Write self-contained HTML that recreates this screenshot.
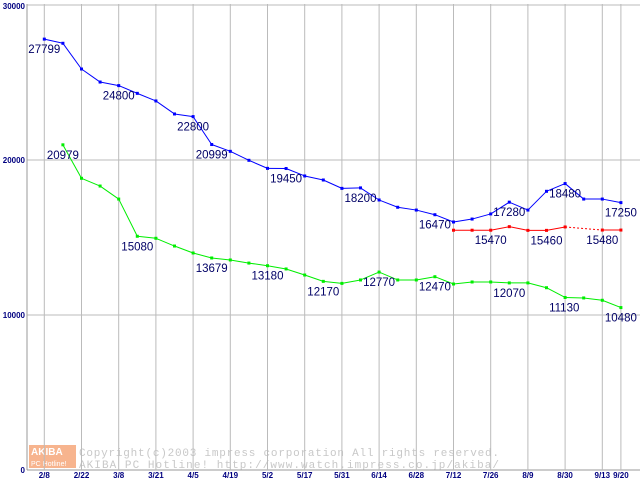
<!DOCTYPE html>
<html><head><meta charset="utf-8"><style>
html,body{margin:0;padding:0;background:#fff;width:640px;height:480px;overflow:hidden}
svg{display:block}
</style></head><body>
<svg id="chart" width="640" height="480" xmlns="http://www.w3.org/2000/svg" font-family="'Liberation Sans', sans-serif">
<g>
<rect x="29" y="445" width="47" height="23" fill="#f7b48e"/>
<text x="31" y="455" font-size="10" font-weight="bold" fill="#fff">AKIBA</text>
<text x="31" y="466" font-size="7" fill="#fff">PC Hotline!</text>
<text x="79" y="456" font-size="11" fill="#c8c8c8" font-family="'Liberation Mono', monospace" textLength="420" lengthAdjust="spacing">Copyright(c)2003 impress corporation All rights reserved.</text>
<text x="79" y="468" font-size="11" fill="#c8c8c8" font-family="'Liberation Mono', monospace" textLength="420" lengthAdjust="spacing">AKIBA PC Hotline!  http://www.watch.impress.co.jp/akiba/</text>
</g>
<g id="grid"></g><g id="series"></g><g id="labels"></g>
</svg>
<script>
const xLabels=["2/8","2/22","3/8","3/21","4/5","4/19","5/2","5/17","5/31","6/14","6/28","7/12","7/26","8/9","8/30","9/13","9/20"];
const xLabelIdx=[0,2,4,6,8,10,12,14,16,18,20,22,24,26,28,30,31];
const yTicks=[0,10000,20000,30000];
const blueVals=[27799,27530,25870,25030,24800,24300,23810,22970,22800,20999,20560,19980,19460,19450,18970,18710,18170,18200,17420,16950,16770,16470,16000,16190,16520,17280,16770,17980,18480,17480,17480,17250];
const greenVals=[null,20979,18820,18320,17480,15080,14950,14450,14000,13679,13550,13350,13180,12970,12580,12170,12040,12260,12770,12260,12260,12470,12000,12130,12130,12070,12070,11760,11130,11100,10950,10480];
const redVals=[null,null,null,null,null,null,null,null,null,null,null,null,null,null,null,null,null,null,null,null,null,null,15470,15470,15470,15700,15460,15460,15680,null,15480,15480];
const blueLabels=[0,4,8,9,13,17,21,25,28,31];
const greenLabels=[1,5,9,12,15,18,21,25,28,31];
const redLabels=[24,27,30];
const NS="http://www.w3.org/2000/svg";
const X=i=>44.3+i*18.6;
const Y=v=>470-v*0.0155;
function mk(tag,attrs,parent){const e=document.createElementNS(NS,tag);for(const k in attrs)e.setAttribute(k,attrs[k]);parent.appendChild(e);return e;}
const grid=document.getElementById('grid'),series=document.getElementById('series'),labels=document.getElementById('labels');
yTicks.forEach(t=>{
 const l=mk('line',{x1:27,x2:640,y1:Y(t),y2:Y(t),stroke:t===0?'#999':'#bbb','stroke-width':1},grid);
 
 
 const tx=mk('text',{x:25,y:Y(t)+(t===30000?4:3),'font-size':8,'font-weight':'bold',fill:'#000080','text-anchor':'end'},labels);
 tx.textContent=t;
 
 
});
const ax=mk('line',{x1:27,x2:27,y1:4,y2:470,stroke:'#999'},grid);


xLabelIdx.forEach((i,k)=>{
 const l=mk('line',{x1:X(i),x2:X(i),y1:4,y2:470,stroke:'#bbb'},grid);
 
 
 const tx=mk('text',{x:X(i),y:478,'font-size':8,'font-weight':'bold',fill:'#000080','text-anchor':'middle'},labels);
 tx.textContent=xLabels[k];
 
 
});
function draw(vals,color,name,lbls){
 for(let i=0;i<vals.length-1;i++){
  if(vals[i]==null)continue;
  let j=i+1;while(j<vals.length&&vals[j]==null)j++;
  if(j>=vals.length)break;
  const seg=mk('line',{x1:X(i),y1:Y(vals[i]),x2:X(j),y2:Y(vals[j]),stroke:color,'stroke-width':1},series);
  if(j>i+1)seg.setAttribute('stroke-dasharray','2,2');
  
  
 }
 vals.forEach((v,i)=>{
  if(v==null)return;
  const p=mk('rect',{x:X(i)-1.5,y:Y(v)-1.5,width:3,height:3,fill:color},series);
  
  
 });
 lbls.forEach(i=>{
  const t=mk('text',{x:X(i)-16,y:Y(vals[i])+14,'font-size':11.5,fill:'#000066'},labels);
  t.textContent=vals[i];
  
  
 });
}
draw(blueVals,'#0000ff','blue-series',blueLabels);
draw(greenVals,'#00ee00','green-series',greenLabels);
draw(redVals,'#ff0000','red-series',redLabels);
</script>
</body></html>
